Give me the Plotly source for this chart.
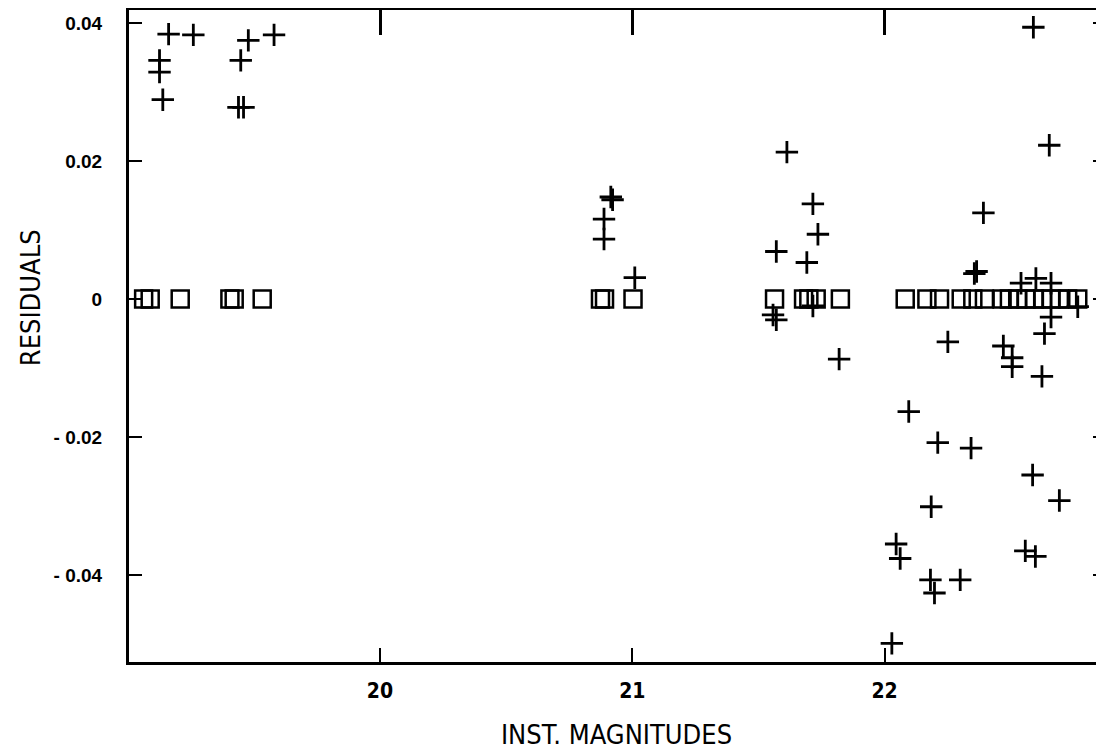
import plotly.graph_objects as go

# Residuals (plus markers)
plus_x = [19.162, 19.26, 19.126, 19.126, 19.139,
          19.478, 19.58, 19.448, 19.439, 19.459,
          20.915, 20.922, 20.888, 20.888, 21.01,
          21.613, 21.716, 21.736, 21.571, 21.692, 21.571, 21.558, 21.716, 21.82,
          22.59, 22.653, 22.392, 22.356, 22.365, 22.541, 22.6, 22.66, 22.766, 22.66,
          22.634, 22.251, 22.471, 22.506, 22.506, 22.624, 22.096, 22.211, 22.343,
          22.587, 22.693, 22.185, 22.046, 22.062, 22.558, 22.598, 22.182, 22.198,
          22.3, 22.029]
plus_y = [0.0384, 0.0383, 0.0346, 0.0329, 0.0289,
          0.0375, 0.0383, 0.0346, 0.0278, 0.0278,
          0.0148, 0.0144, 0.0116, 0.0087, 0.0031,
          0.0213, 0.0138, 0.0094, 0.0069, 0.0053, -0.0030, -0.0023, -0.0010, -0.0087,
          0.0394, 0.0223, 0.0125, 0.0037, 0.0040, 0.0023, 0.0030, 0.0023, -0.0011, -0.0026,
          -0.0050, -0.0062, -0.0068, -0.0085, -0.0098, -0.0112, -0.0163, -0.0208, -0.0216,
          -0.0255, -0.0292, -0.0301, -0.0355, -0.0376, -0.0365, -0.0373, -0.0407, -0.0426,
          -0.0407, -0.0499]

# Zero-residual reference points (open squares)
square_x = [19.063, 19.089, 19.208, 19.405, 19.422, 19.533,
            20.874, 20.89, 21.003,
            21.564, 21.679, 21.7, 21.729, 21.825,
            22.082, 22.168, 22.218, 22.304, 22.350, 22.396, 22.466, 22.495,
            22.528, 22.561, 22.594, 22.627, 22.660, 22.693, 22.726, 22.766]
square_y = [0.0] * len(square_x)

x_ticks = [20, 21, 22]
x_ticktext = ["20", "21", "22"]
y_ticks = [0.04, 0.02, 0, -0.02, -0.04]
y_ticktext = ["0.04", "0.02", "0", "- 0.02", "- 0.04"]

x_range = [19.005, 22.87]
y_range = [-0.0526, 0.0419]

fig = go.Figure()
fig.add_trace(go.Scatter(
    x=square_x, y=square_y, mode="markers",
    marker=dict(symbol="square-open", size=17, color="black",
                line=dict(color="black", width=2.5)),
    showlegend=False, hoverinfo="skip"))
fig.add_trace(go.Scatter(
    x=plus_x, y=plus_y, mode="markers",
    marker=dict(symbol="cross-thin-open", size=16, color="black",
                line=dict(color="black", width=2.8)),
    showlegend=False, hoverinfo="skip"))
# empty trace to activate the overlay axes (top / right frame ticks)
fig.add_trace(go.Scatter(x=[], y=[], xaxis="x2", yaxis="y2",
                         showlegend=False, hoverinfo="skip"))

cond = "DejaVu Sans Condensed, Liberation Sans Narrow, Arial Narrow, sans-serif"
ytick_font = dict(family="Liberation Sans, Arial, sans-serif", size=19,
                  color="black", weight="bold")
xtick_font = dict(family=cond, size=21, color="black", weight="bold")
title_font = dict(family=cond, size=27, color="black")

fig.update_layout(
    width=1096, height=742,
    margin=dict(l=121, r=0, t=2, b=88),
    paper_bgcolor="white", plot_bgcolor="white",
    xaxis=dict(range=x_range, tickvals=x_ticks, ticktext=x_ticktext,
               ticks="inside", ticklen=14, tickwidth=2, tickcolor="black",
               showline=True, linewidth=3, linecolor="black",
               showgrid=False, zeroline=False, ticklabelstandoff=8,
               tickfont=xtick_font,
               title=dict(text="INST. MAGNITUDES", font=title_font, standoff=23)),
    yaxis=dict(range=y_range, tickvals=y_ticks, ticktext=y_ticktext,
               ticks="inside", ticklen=13, tickwidth=2, tickcolor="black",
               showline=True, linewidth=3, linecolor="black",
               showgrid=False, zeroline=False, ticklabelstandoff=20,
               tickfont=ytick_font),
    xaxis2=dict(range=x_range, overlaying="x", side="top", tickvals=x_ticks,
                showticklabels=False, ticks="inside", ticklen=25, tickwidth=3,
                tickcolor="black", showline=True, linewidth=3, linecolor="black",
                showgrid=False, zeroline=False),
    yaxis2=dict(range=y_range, overlaying="y", side="right", tickvals=y_ticks,
                showticklabels=False, ticks="inside", ticklen=11, tickwidth=2,
                tickcolor="black", showline=False,
                showgrid=False, zeroline=False),
    annotations=[dict(text="RESIDUALS", textangle=-90, font=title_font,
                      xref="paper", yref="paper", x=0, y=0.558,
                      xanchor="center", yanchor="middle", xshift=-99,
                      showarrow=False)],
)

fig.write_html("out.html")
